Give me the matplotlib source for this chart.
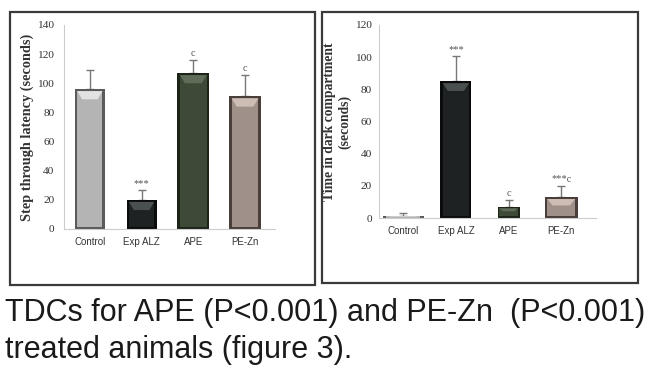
import matplotlib.pyplot as plt
from matplotlib.patches import Rectangle, Polygon

groups = ["Control", "Exp ALZ", "APE", "PE-Zn"]

# figure A: step through latency
latency = [96, 20, 107, 91]
latency_err = [13, 7, 9, 15]
latency_marks = ["", "***", "c", "c"]

# figure B: time in dark compartment
dark_time = [1.5, 85, 7, 13]
dark_err = [1.5, 16, 4, 7]
dark_marks = ["", "***", "c", "***c"]

caption = ["TDCs for APE (P<0.001) and PE-Zn  (P<0.001)", "treated animals (figure 3)."]

colors = ["#b4b4b4", "#1e2222", "#3d4a38", "#a0908a"]
lights = ["#e2e2e2", "#4a5050", "#5e6c58", "#cdbdb4"]
darks = ["#5a5a5a", "#0a0c0c", "#1c2418", "#4a3e3a"]


def bevel_bar(ax, x, h, w, i, yspan):
    # flat bar with a darker rim and a light wedge at the top, like the excel bevel
    ax.add_patch(Rectangle((x - w / 2, 0), w, h, facecolor=darks[i], edgecolor="none", zorder=2))
    ix = w * 0.08
    iy = min(yspan * 0.01, h * 0.15)
    ax.add_patch(Rectangle((x - w / 2 + ix, iy), w - 2 * ix, h - 2 * iy,
                           facecolor=colors[i], edgecolor="none", zorder=2))
    dy = min(yspan * 0.05, h * 0.4)
    ax.add_patch(Polygon([(x - w / 2 + ix, h - iy), (x + w / 2 - ix, h - iy),
                          (x + w / 2 - 3 * ix, h - dy), (x - w / 2 + 3 * ix, h - dy)],
                         closed=True, facecolor=lights[i], edgecolor="none", zorder=3))


def panel(ax, vals, errs, marks, widths, ymax, step, ylabel, xlim, lsize, lx, tpad):
    for i, v in enumerate(vals):
        bevel_bar(ax, i, v, widths[i], i, ymax)
        ax.errorbar(i, v, yerr=[[0], [errs[i]]], color="#777777", elinewidth=1,
                    capsize=3, capthick=1, zorder=1)
        if marks[i]:
            ax.text(i, v + errs[i] + ymax * 0.01, marks[i], ha="center", va="bottom",
                    fontsize=7.5, color="#555555", family="Liberation Serif")
    ax.set_xlim(*xlim)
    ax.set_ylim(0, ymax)
    ax.set_yticks(range(0, ymax + 1, step))
    ax.set_xticks(range(len(groups)))
    ax.set_xticklabels(groups, family="Liberation Sans", fontsize=7, color="#333333")
    ax.tick_params(axis="y", length=0, labelsize=8.2, pad=tpad, labelcolor="#333333")
    ax.tick_params(axis="x", length=0, pad=6)
    for lab in ax.get_yticklabels():
        lab.set_family("Liberation Serif")
    for s in ["top", "right"]:
        ax.spines[s].set_visible(False)
    ax.spines["left"].set_color("#cccccc")
    ax.spines["bottom"].set_color("#cccccc")
    ax.set_ylabel(ylabel, family="Liberation Serif", fontweight="bold", fontsize=lsize,
                  color="#333333", linespacing=1.2)
    ax.yaxis.set_label_coords(lx, 0.5)


fig = plt.figure(figsize=(6.58, 3.81), dpi=100)

ax1 = fig.add_axes([64 / 658, 1 - 229 / 381, 211 / 658, 204 / 381])
panel(ax1, latency, latency_err, latency_marks, [0.58, 0.58, 0.62, 0.62], 140, 20,
      "Step through latency (seconds)", (-0.5, 3.58), 10.3, -0.14, 7)

ax2 = fig.add_axes([379 / 658, 1 - 218 / 381, 217 / 658, 193 / 381])
panel(ax2, dark_time, dark_err, dark_marks, [0.78, 0.59, 0.42, 0.63], 120, 20,
      "Time in dark compartment\n(seconds)", (-0.46, 3.66), 9.8, -0.125, 5)

# panel frames
for x0, y0, x1, y1 in [(10, 12, 315, 285), (322, 12, 638, 283)]:
    fig.add_artist(Rectangle((x0 / 658, 1 - y1 / 381), (x1 - x0) / 658, (y1 - y0) / 381,
                             transform=fig.transFigure, fill=False, edgecolor="#3a3a3a", lw=1.6))

fig.text(5 / 658, 1 - 321 / 381, caption[0], ha="left", va="baseline",
         fontsize=22, family="Liberation Sans", color="#1a1a1a")
fig.text(5 / 658, 1 - 358 / 381, caption[1], ha="left", va="baseline",
         fontsize=22, family="Liberation Sans", color="#1a1a1a")

fig.savefig("out.png", dpi=100)
